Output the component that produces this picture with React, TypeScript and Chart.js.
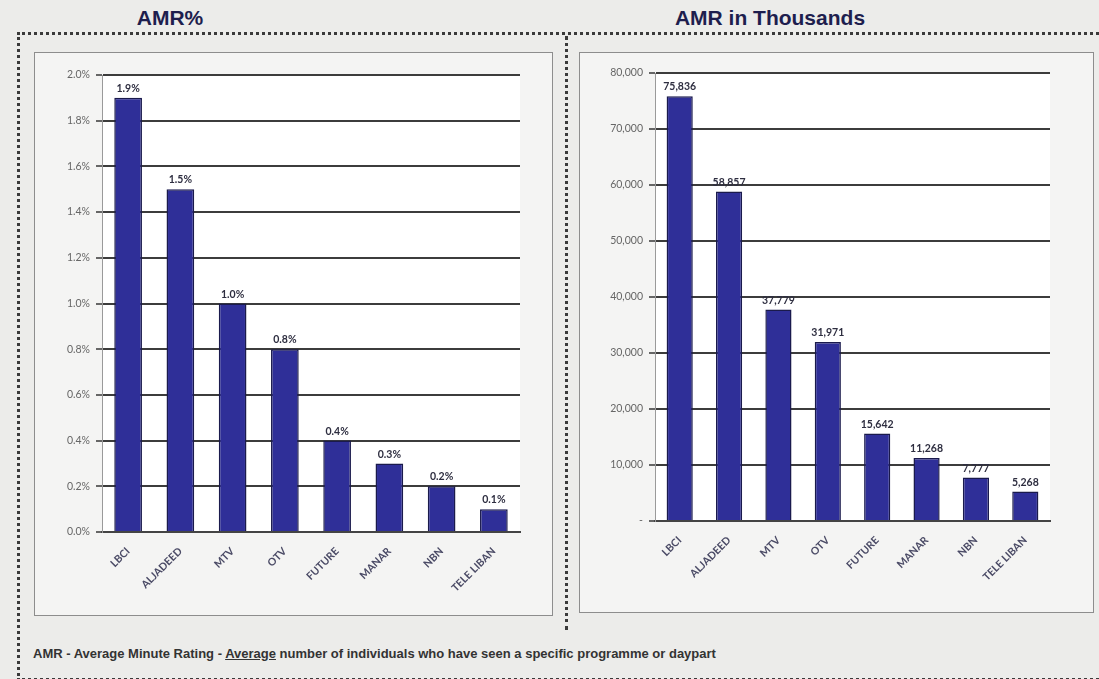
import React, { useEffect, useRef } from "react";
import { Chart, registerables } from "chart.js";

Chart.register(...registerables);

const channelsLeft = ["LBCI", "ALJADEED", "MTV", "OTV", "FUTURE", "MANAR", "NBN", "TELE LIBAN"];
const channelsRight = ["LBCI", "ALJADEED", "MTV", "OTV", "FUTURE", "MANAR", "NBN", "TELE LIBAN"];
const amrPercent = [1.9, 1.5, 1.0, 0.8, 0.4, 0.3, 0.2, 0.1];
const amrPercentLabels = ["1.9%", "1.5%", "1.0%", "0.8%", "0.4%", "0.3%", "0.2%", "0.1%"];
const amrThousands = [75836, 58857, 37779, 31971, 15642, 11268, 7777, 5268];
const amrThousandsLabels = ["75,836", "58,857", "37,779", "31,971", "15,642", "11,268", "7,777", "5,268"];

const BAR_FILL = "#2f2f98";
const BAR_EDGE = "#1a1a4c";
const GRID = "#3c3c3c";
const TICK_FONT = "Lato";

const plotBg = {
  id: "plotBg",
  beforeDraw(chart: any) {
    const { ctx, chartArea } = chart;
    ctx.save();
    ctx.fillStyle = "#ffffff";
    ctx.fillRect(chartArea.left, chartArea.top, chartArea.right - chartArea.left, chartArea.bottom - chartArea.top);
    ctx.restore();
  },
};

const valueLabels = {
  id: "valueLabels",
  afterDatasetsDraw(chart: any) {
    const { ctx } = chart;
    const labels: string[] = chart.options.plugins.valueLabels.labels;
    const meta = chart.getDatasetMeta(0);
    ctx.save();
    ctx.font = `bold 10.5px ${TICK_FONT}`;
    ctx.fillStyle = "#2e2e40";
    ctx.textAlign = "center";
    ctx.textBaseline = "bottom";
    meta.data.forEach((bar: any, i: number) => {
      ctx.fillText(labels[i], bar.x, bar.y - 4);
    });
    ctx.restore();
  },
};

type Cfg = {
  labels: string[];
  values: number[];
  valueText: string[];
  max: number;
  step: number;
  fmt: (v: number) => string;
  w: number;
  h: number;
  areaLeft: number;
  areaTop: number;
  areaRight: number;
  areaBottom: number;
};

function BarPanel(props: Cfg) {
  const ref = useRef<HTMLCanvasElement>(null);
  useEffect(() => {
    const c = ref.current!;
    const chart = new Chart(c, {
      type: "bar",
      data: {
        labels: props.labels,
        datasets: [
          {
            data: props.values,
            backgroundColor: BAR_FILL,
            borderColor: BAR_EDGE,
            borderWidth: 1.5,
            categoryPercentage: 0.53,
            barPercentage: 1,
          },
        ],
      },
      options: {
        responsive: false,
        animation: false,
        devicePixelRatio: 1,
        layout: {
          padding: { top: props.areaTop, right: props.w - props.areaRight, left: 0, bottom: 0 },
        },
        plugins: {
          legend: { display: false },
          tooltip: { enabled: false },
          valueLabels: { labels: props.valueText },
        } as any,
        scales: {
          x: {
            grid: { display: false },
            border: { display: true, color: "#444444", width: 2 },
            ticks: {
              minRotation: 45,
              maxRotation: 45,
              autoSkip: false,
              padding: 5,
              color: "#4b4b66",
              font: { family: TICK_FONT, size: 10.5, weight: "bold" },
            },
            afterFit: (s: any) => {
              s.height = props.h - props.areaBottom;
            },
          },
          y: {
            min: 0,
            max: props.max,
            ticks: {
              stepSize: props.step,
              padding: 6,
              color: "#666666",
              font: { family: TICK_FONT, size: 10.5 },
              callback: (v: any) => props.fmt(Number(v)),
            },
            grid: { color: GRID, lineWidth: 2, tickLength: 6, tickColor: "#666" },
            border: { display: true, color: "#9a9a9a", width: 1 },
            afterFit: (s: any) => {
              s.width = props.areaLeft;
            },
          },
        },
      },
      plugins: [plotBg, valueLabels],
    });
    return () => chart.destroy();
  }, []);
  return <canvas ref={ref} width={props.w} height={props.h} style={{ width: props.w, height: props.h, display: "block" }} />;
}

export default function App() {
  const leftBox = { x: 35, y: 53, w: 517, h: 562 };
  const rightBox = { x: 580, y: 53, w: 513, h: 559 };
  return (
    <div
      style={{
        position: "absolute",
        left: 0,
        top: 0,
        width: 1099,
        height: 679,
        overflow: "hidden",
        background: "#ececea",
        fontFamily: "Liberation Sans, Arial, sans-serif",
      }}
    >
      <div style={{ position: "absolute", left: 95, top: 6, width: 150, textAlign: "center", fontWeight: "bold", fontSize: 21, color: "#1e1e4e" }}>
        AMR%
      </div>
      <div style={{ position: "absolute", left: 630, top: 6, width: 280, textAlign: "center", fontWeight: "bold", fontSize: 21, color: "#1e1e4e" }}>
        AMR in Thousands
      </div>
      <div
        style={{
          position: "absolute",
          left: 17,
          top: 32,
          width: 1120,
          height: 643,
          borderTop: "3px dotted #3a3a3a",
          borderLeft: "3px dotted #3a3a3a",
          borderBottom: "3px dotted #3a3a3a",
        }}
      />
      <div style={{ position: "absolute", left: 565, top: 36, height: 594, borderLeft: "3px dotted #3a3a3a" }} />
      <div
        style={{
          position: "absolute",
          left: leftBox.x,
          top: leftBox.y,
          width: leftBox.w,
          height: leftBox.h,
          outline: "1.5px solid #8d8d8d",
          background: "#f4f4f3",
        }}
      >
        <BarPanel
          labels={channelsLeft}
          values={amrPercent}
          valueText={amrPercentLabels}
          max={2.0}
          step={0.2}
          fmt={(v) => v.toFixed(1) + "%"}
          w={leftBox.w}
          h={leftBox.h}
          areaLeft={67}
          areaTop={22}
          areaRight={485}
          areaBottom={479}
        />
      </div>
      <div
        style={{
          position: "absolute",
          left: rightBox.x,
          top: rightBox.y,
          width: rightBox.w,
          height: rightBox.h,
          outline: "1.5px solid #8d8d8d",
          background: "#f4f4f3",
        }}
      >
        <BarPanel
          labels={channelsRight}
          values={amrThousands}
          valueText={amrThousandsLabels}
          max={80000}
          step={10000}
          fmt={(v) => (v === 0 ? "-" : v.toLocaleString("en-US"))}
          w={rightBox.w}
          h={rightBox.h}
          areaLeft={75}
          areaTop={20}
          areaRight={470}
          areaBottom={468}
        />
      </div>
      <div style={{ position: "absolute", left: 33, top: 646, fontSize: 13, fontWeight: "bold", color: "#333", whiteSpace: "nowrap" }}>
        AMR - Average Minute Rating - <span style={{ textDecoration: "underline" }}>Average</span> number of individuals who have seen a specific programme or daypart
      </div>
    </div>
  );
}
